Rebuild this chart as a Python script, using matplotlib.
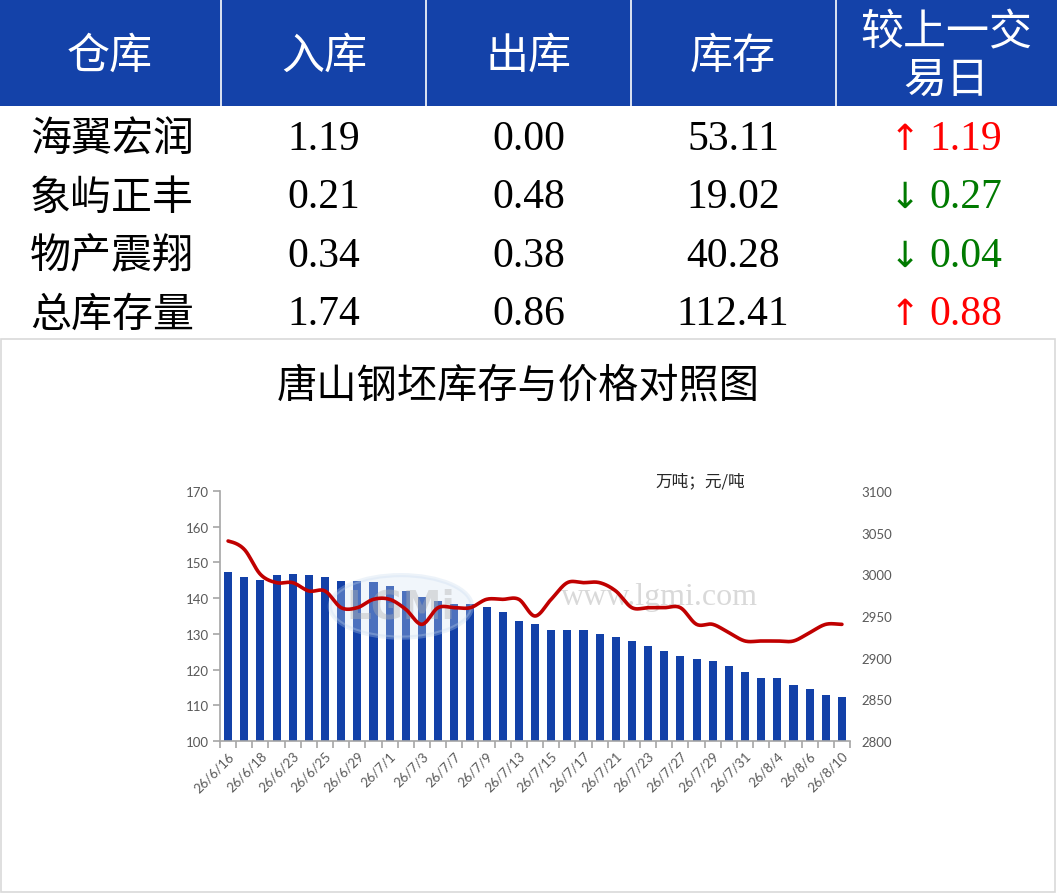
import numpy as np
import matplotlib
matplotlib.use("Agg")
import matplotlib.pyplot as plt
from matplotlib.patches import Rectangle, Ellipse

plt.rcParams['font.family'] = ['Noto Sans CJK SC', 'DejaVu Sans']

# ---------------- data ----------------
headers = ["仓库", "入库", "出库", "库存", "较上一交\n易日"]
warehouses = ["海翼宏润", "象屿正丰", "物产震翔", "总库存量"]
inflow = ["1.19", "0.21", "0.34", "1.74"]
outflow = ["0.00", "0.48", "0.38", "0.86"]
stock = ["53.11", "19.02", "40.28", "112.41"]
change = ["1.19", "0.27", "0.04", "0.88"]
change_dir = ["up", "down", "down", "up"]

dates = ["26/6/16", "26/6/17", "26/6/18", "26/6/22", "26/6/23", "26/6/24", "26/6/25",
         "26/6/26", "26/6/29", "26/6/30", "26/7/1", "26/7/2", "26/7/3", "26/7/6",
         "26/7/7", "26/7/8", "26/7/9", "26/7/10", "26/7/13", "26/7/14", "26/7/15",
         "26/7/16", "26/7/17", "26/7/20", "26/7/21", "26/7/22", "26/7/23", "26/7/24",
         "26/7/27", "26/7/28", "26/7/29", "26/7/30", "26/7/31", "26/8/3", "26/8/4",
         "26/8/5", "26/8/6", "26/8/7", "26/8/10"]
inventory = [147.2, 145.9, 145.2, 146.5, 146.9, 146.5, 145.9, 144.9, 144.9, 144.4,
             143.5, 142.0, 140.2, 139.1, 138.4, 138.4, 137.4, 136.0, 133.6, 132.9,
             131.2, 131.2, 131.2, 130.1, 129.1, 128.1, 126.7, 125.3, 123.9, 122.9,
             122.5, 121.1, 119.4, 117.7, 117.7, 115.8, 114.5, 112.8, 112.4]
price = [3040, 3030, 3000, 2990, 2990, 2980, 2980, 2960, 2960, 2970,
         2970, 2958, 2940, 2960, 2960, 2960, 2970, 2970, 2970, 2950,
         2970, 2990, 2990, 2990, 2980, 2960, 2960, 2960, 2960, 2940,
         2940, 2930, 2920, 2920, 2920, 2920, 2930, 2940, 2940]

W, H = 1057, 895
fig = plt.figure(figsize=(W / 100, H / 100), dpi=100)
fig.patch.set_facecolor("white")

def fx(x):
    return x / W

def fy(y):
    return 1 - y / H

# ---------------- table ----------------
blue = "#1442A9"
fig.patches.append(Rectangle((0, fy(107)), 1, 107 / H, transform=fig.transFigure,
                             facecolor=blue, edgecolor="none", zorder=0))
for sx in [221, 426, 631, 836]:
    fig.add_artist(plt.Line2D([fx(sx), fx(sx)], [fy(0), fy(107)], color="white",
                              lw=1.2, transform=fig.transFigure))

col_centers = [110, 324, 529, 733, 946]
for i, h in enumerate(headers):
    if "\n" in h:
        a, b = h.split("\n")
        fig.text(fx(col_centers[i]), fy(33), a, color="white", fontsize=31,
                 ha="center", va="center")
        fig.text(fx(col_centers[i]), fy(81), b, color="white", fontsize=31,
                 ha="center", va="center")
    else:
        fig.text(fx(col_centers[i]), fy(57), h, color="white", fontsize=31,
                 ha="center", va="center")

row_y = [140, 198, 257, 315]
numfam = ["Liberation Serif", "Noto Sans CJK SC"]
for r in range(4):
    y = fy(row_y[r])
    fig.text(fx(30), y, warehouses[r], fontsize=29.5, ha="left", va="center", color="black")
    fig.text(fx(col_centers[1]), y, inflow[r], fontsize=30, ha="center", va="center",
             family=numfam)
    fig.text(fx(col_centers[2]), y, outflow[r], fontsize=30, ha="center", va="center",
             family=numfam)
    fig.text(fx(col_centers[3]), y, stock[r], fontsize=30, ha="center", va="center",
             family=numfam)
    c = "#FF0000" if change_dir[r] == "up" else "#007A00"
    arrow = "↑" if change_dir[r] == "up" else "↓"
    fig.text(fx(905), y, arrow, fontsize=26, ha="center", va="center", color=c,
             family=["DejaVu Sans"])
    fig.text(fx(966), y, change[r], fontsize=30, ha="center", va="center", color=c,
             family=numfam)

# ---------------- chart panel ----------------
fig.patches.append(Rectangle((fx(1), fy(893)), (1054) / W, (893 - 340) / H,
                             transform=fig.transFigure, facecolor="white",
                             edgecolor="#D9D9D9", lw=1.2, zorder=0))
fig.text(fx(518), fy(386), "唐山钢坯库存与价格对照图", fontsize=29, ha="center",
         va="center", color="black")
fig.text(fx(700), fy(482), "万吨；元/吨", fontsize=12, ha="center", va="center",
         color="#262626")

ax = fig.add_axes([fx(220), fy(742), (850 - 220) / W, (742 - 492) / H])
ax2 = ax.twinx()
ax.set_zorder(1)
ax2.set_zorder(2)
ax.patch.set_visible(False)
ax2.patch.set_visible(False)

# watermark
ax.add_patch(Ellipse((10.7, 137.7), 8.8, 17.5, facecolor="#D3E3F3", edgecolor="#C4D8EE",
                     lw=3, alpha=0.3, zorder=3))
ax.text(10.7, 137.7, "LGMi", fontsize=28, ha="center", va="center", color="#B0B0B0",
        alpha=0.4, fontweight="bold", zorder=3, family=["DejaVu Sans"])
ax.text(26.7, 140.5, "www.lgmi.com", fontsize=23, ha="center", va="center",
        color="#D0D0D0", alpha=0.8, zorder=3, family=["Liberation Serif"])

x = np.arange(len(dates))
ax.bar(x, inventory, width=0.5, color="#1341A8", zorder=2)
ax.set_xlim(-0.5, len(dates) - 0.5)
ax.set_ylim(100, 170)
ax.set_yticks(np.arange(100, 171, 10))

# smoothed price line (Catmull-Rom through the data points)
p = np.array(price, dtype=float)
pp = np.concatenate([[p[0]], p, [p[-1]]])
xs, ys = [], []
n = 20
for i in range(len(p) - 1):
    p0, p1, p2, p3 = pp[i], pp[i + 1], pp[i + 2], pp[i + 3]
    t = np.linspace(0, 1, n, endpoint=False)
    yv = 0.5 * ((2 * p1) + (-p0 + p2) * t + (2 * p0 - 5 * p1 + 4 * p2 - p3) * t ** 2
                + (-p0 + 3 * p1 - 3 * p2 + p3) * t ** 3)
    xs.extend(x[i] + t)
    ys.extend(yv)
xs.append(x[-1])
ys.append(p[-1])
ax2.plot(xs, ys, color="#C00000", lw=2.6, solid_capstyle="round")
ax2.set_ylim(2800, 3100)
ax2.set_yticks(np.arange(2800, 3101, 50))

gray = "#595959"
for a in (ax, ax2):
    for s in a.spines.values():
        s.set_visible(False)
ax.spines["left"].set_visible(True)
ax.spines["bottom"].set_visible(True)
ax.spines["left"].set_color("#A6A6A6")
ax.spines["bottom"].set_color("#A6A6A6")
ax.spines["left"].set_linewidth(1.2)
ax.spines["bottom"].set_linewidth(1.2)

ax.set_xticks(x[::2])
ax.set_xticklabels(dates[::2], rotation=45, ha="right", rotation_mode="anchor",
                   fontsize=9.5, color=gray, family=["Lato"])
ax.tick_params(axis="x", which="major", length=0, pad=6)
ax.set_xticks(np.arange(-0.5, len(dates), 1), minor=True)
ax.tick_params(axis="x", which="minor", length=5, color="#A6A6A6", width=1.2)
ax.tick_params(axis="y", length=5, color="#A6A6A6", width=1.2, labelsize=9.5,
               labelcolor=gray, pad=3)
for lbl in ax.get_yticklabels():
    lbl.set_family(["Lato"])
ax2.tick_params(axis="y", length=0, labelsize=9.5, labelcolor=gray, pad=8)
for lbl in ax2.get_yticklabels():
    lbl.set_family(["Lato"])

fig.savefig("out.png", dpi=100, facecolor="white")
